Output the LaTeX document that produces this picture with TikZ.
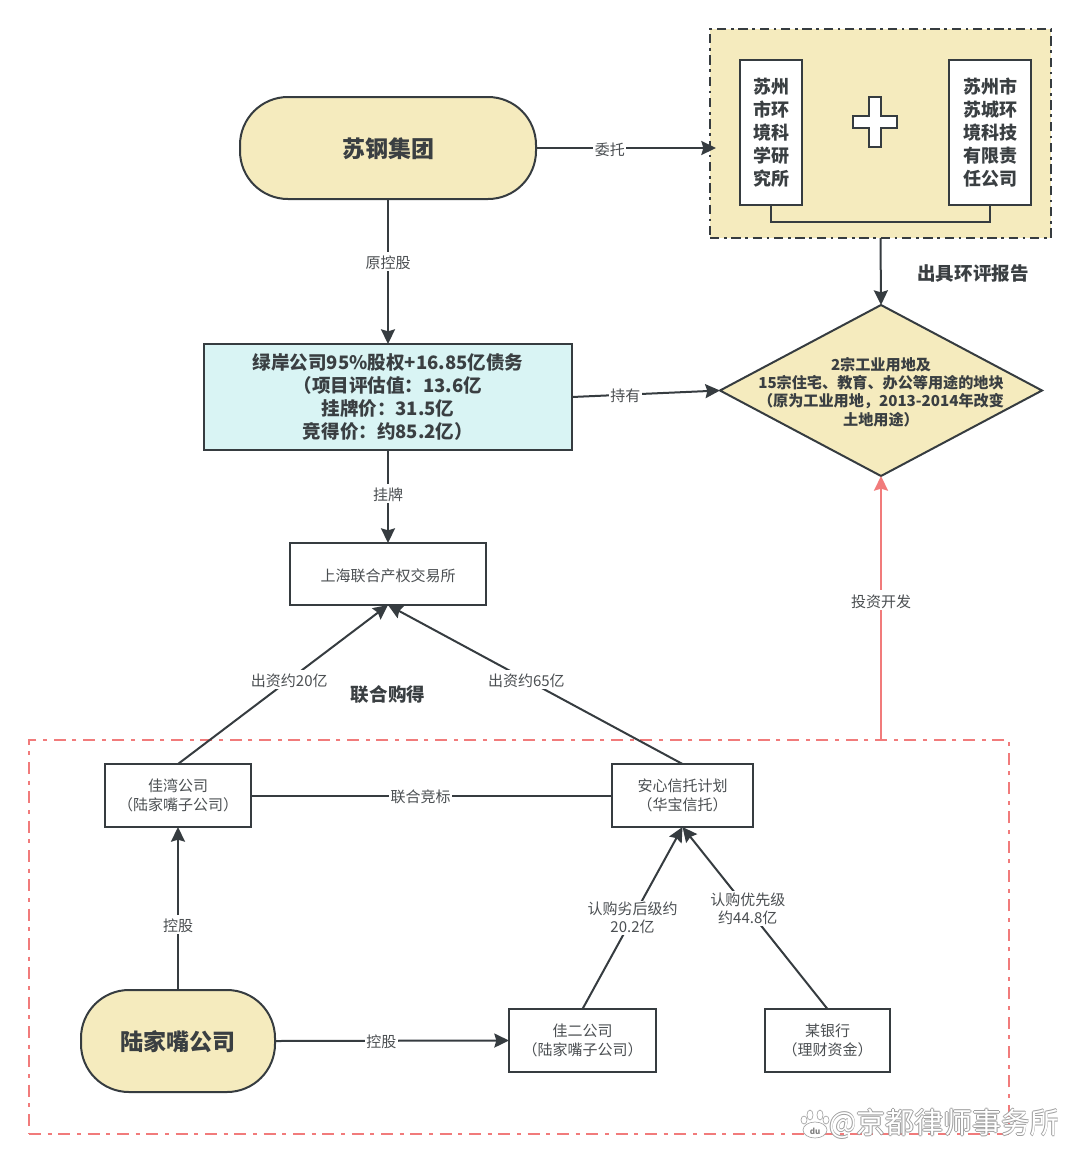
\documentclass[tikz,border=0pt]{standalone}
\usepackage{fontspec}
\setmainfont{Noto Sans CJK SC}
\usetikzlibrary{arrows.meta}
\usetikzlibrary{positioning}
\usetikzlibrary{shapes.geometric}
\definecolor{darkline}{HTML}{363C40}
\definecolor{framered}{HTML}{F17B7B}
\definecolor{sandfill}{HTML}{F5EBBE}
\definecolor{tealfill}{HTML}{D9F4F4}
\definecolor{labelgray}{HTML}{4B4F52}
\definecolor{bolddark}{HTML}{3A3F42}

\begin{document}
\begin{tikzpicture}[x=0.75pt,y=-0.75pt,
    line/.style={draw=darkline,line width=1.5pt},
    arrowline/.style={line,-{Stealth[length=11pt,width=10.5pt,inset=1.5pt]}},
    redarrow/.style={draw=framered,line width=1.5pt,-{Stealth[length=11pt,width=10.5pt,inset=1.5pt]}},
    plainbox/.style={line,fill=white,outer sep=0pt,align=center,text=labelgray,
        font=\fontsize{11.25}{13.8}\selectfont,execute at begin node=\rule{0pt}{12pt}},
    sidebox/.style={line,fill=white,outer sep=0pt,align=center,text=bolddark,
        font=\fontsize{13.5}{17.25}\selectfont\bfseries,execute at begin node=\rule{0pt}{13pt}},
    pill/.style={line,fill=sandfill,outer sep=0pt,rounded corners=36pt,text=bolddark,
        font=\fontsize{17.25}{20}\selectfont\bfseries,execute at begin node=\rule{0pt}{16.5pt}},
    edgelabel/.style={fill=white,inner sep=1pt,align=center,text=labelgray,
        font=\fontsize{11.25}{13.8}\selectfont,execute at begin node=\rule{0pt}{11.5pt}},
    boldnote/.style={text=bolddark,font=\fontsize{13.9}{16}\selectfont\bfseries},
    ] 
\useasboundingbox (0,0) rectangle (1080,1163);

% frames
\node (reportframe) [draw=darkline,line width=1.5pt,fill=sandfill,outer sep=0pt,
    dash pattern=on 7pt off 3.5pt on 2pt off 3.5pt,
    minimum width=341*0.75pt,minimum height=209*0.75pt] at (880.5,133.5) {};
\node (buyerframe) [draw=framered,line width=1.5pt,outer sep=0pt,
    dash pattern=on 9pt off 5pt on 3pt off 5pt,
    minimum width=980*0.75pt,minimum height=394*0.75pt] at (519,937) {};

% top left
\node (sugang) [pill,minimum width=296*0.75pt,minimum height=102*0.75pt] at (388,148) {苏钢集团};
\node (greenbank) [line,fill=tealfill,outer sep=0pt,align=center,text=bolddark,
    font=\fontsize{13.9}{17.25}\selectfont\bfseries,execute at begin node=\rule{0pt}{14pt},
    minimum width=368*0.75pt,minimum height=106*0.75pt] at (388,397)
    {绿岸公司95\%股权+16.85亿债务\\（项目评估值：13.6亿\\挂牌价：31.5亿\\竞得价：约85.2亿）};
\node (exchange) [plainbox,minimum width=196*0.75pt,minimum height=62*0.75pt] at (388,574) {上海联合产权交易所};

% report frame content
\node (institute) [sidebox,minimum width=62*0.75pt,minimum height=145*0.75pt] at (771,132.5)
    {苏州\\市环\\境科\\学研\\究所};
\node (sucheng) [sidebox,minimum width=82*0.75pt,minimum height=145*0.75pt] at (990,132.5)
    {苏州市\\苏城环\\境科技\\有限责\\任公司};
\draw [line,fill=white] (869,97) -- (881,97) -- (881,116) -- (897,116) -- (897,128) -- (881,128)
    -- (881,147) -- (869,147) -- (869,128) -- (853,128) -- (853,116) -- (869,116) -- cycle;
\draw [line] (institute.south) -- ++(0,17) -| (sucheng.south);

% diamond
\node (landplot) [diamond,line,fill=sandfill,outer sep=0pt,inner sep=0pt,aspect=1.88,
    minimum width=322*0.75pt,minimum height=171*0.75pt] at (881,390.5) {};
\node (landtext) [align=center,text=bolddark,font=\fontsize{11.35}{13.7}\selectfont\bfseries] at (881,392)
    {2宗工业用地及\\15宗住宅、教育、办公等用途的地块\\（原为工业用地，2013-2014年改变\\土地用途）};

% bottom boxes
\node (jiawan) [plainbox,minimum width=146*0.75pt,minimum height=63*0.75pt] at (178,795.5) {佳湾公司\\（陆家嘴子公司）};
\node (anxin) [plainbox,minimum width=141*0.75pt,minimum height=63*0.75pt] at (682.5,795.5) {安心信托计划\\（华宝信托）};
\node (lujiazui) [pill,minimum width=194*0.75pt,minimum height=102*0.75pt] at (178,1041) {陆家嘴公司};
\node (jiaer) [plainbox,minimum width=147*0.75pt,minimum height=63*0.75pt] at (582.5,1040.5) {佳二公司\\（陆家嘴子公司）};
\node (somebank) [plainbox,minimum width=125*0.75pt,minimum height=63*0.75pt] at (827.5,1040.5) {某银行\\（理财资金）};

% connectors
\coordinate (entrust) at (716,148);
\coordinate (redstart) at (881,740);
\draw [arrowline] (sugang.east) -- (entrust) node (entrustlabel) [edgelabel,pos=0.41] {委托};
\draw [arrowline] (sugang.south) -- (greenbank.north) node (oldlabel) [edgelabel,pos=0.43] {原控股};
\draw [arrowline] (greenbank.east) -- (landplot.west) node (holdlabel) [edgelabel,pos=0.36] {持有};
\draw [arrowline] (greenbank.south) -- (exchange.north) node (listlabel) [edgelabel,pos=0.47] {挂牌};
\draw [arrowline] (reportframe.south) -- (landplot.north);
\draw [arrowline] (jiawan.north) -- (exchange.south) node (twentylabel) [edgelabel,pos=0.53] {出资约20亿};
\draw [arrowline] (anxin.north) -- (exchange.south) node (sixtyfivelabel) [edgelabel,pos=0.53] {出资约65亿};
\draw [line] (jiawan.east) -- (anxin.west) node (bidlabel) [edgelabel,pos=0.47] {联合竞标};
\draw [arrowline] (lujiazui.north) -- (jiawan.south) node (holdleft) [edgelabel,pos=0.4] {控股};
\draw [arrowline] (lujiazui.east) -- (jiaer.west) node (holdright) [edgelabel,pos=0.455] {控股};
\draw [arrowline] (jiaer.north) -- (anxin.south) node (subordlabel) [edgelabel,midway] {认购劣后级约\\20.2亿};
\draw [arrowline] (somebank.north) -- (anxin.south) node (seniorlabel) [edgelabel,pos=0.55] {认购优先级\\约44.8亿};
\draw [redarrow] (redstart) -- (landplot.south) node (investlabel) [edgelabel,pos=0.53] {投资开发};

% notes
\node (reportnote) [boldnote] at (973,273) {出具环评报告};
\node (jointnote) [boldnote] at (388,695) {联合购得};

% watermark
\foreach \dx/\dy in {-0.9/0,0.9/0,0/-0.9,0/0.9}
    \node [text=black!38,font=\fontsize{21.7}{24}\selectfont] at (944+\dx,1124+\dy) {@京都律师事务所};
\node (watermark) [text=white,font=\fontsize{21.7}{24}\selectfont] at (944,1124) {@京都律师事务所};
\foreach \px/\py/\rx/\ry in {804/1120/3/4,810/1115/3/5,820/1115/3/5,826/1120/3/4,815/1130/12/8}
    \draw [draw=black!35,fill=white,line width=0.5pt] (\px,\py) ellipse ({\rx} and {\ry});
\node (pawlabel) [text=black!50,inner sep=0pt,font=\fontsize{6}{6}\selectfont\bfseries] at (815,1131) {du};
\end{tikzpicture}
\end{document}
